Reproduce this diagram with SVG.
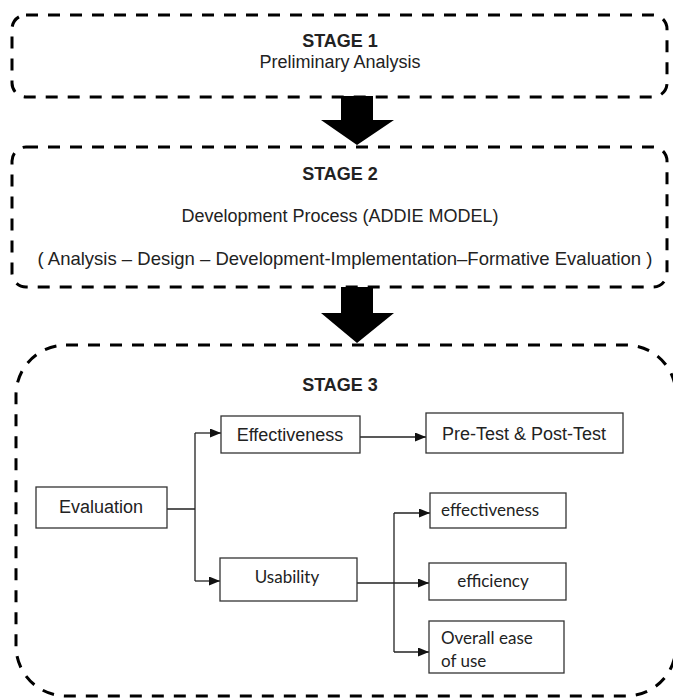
<svg xmlns="http://www.w3.org/2000/svg" width="673" height="698" viewBox="0 0 673 698">
<style>
.stage{fill:none;stroke:#000;stroke-width:3;stroke-dasharray:12 10}
.box{fill:#fff;stroke:#333;stroke-width:1.3}
.con{fill:none;stroke:#222;stroke-width:1.3}
.t{font-family:"Liberation Sans",Arial,sans-serif;fill:#222;font-size:18px}
.m{text-anchor:middle}
.b{font-weight:bold}
.c{font-family:Lato,"Open Sans",sans-serif;fill:#222;font-size:17px}
.blk{fill:#000}
</style>
<defs>
<marker id="ah" markerWidth="11" markerHeight="9" refX="11" refY="4.5" orient="auto" markerUnits="userSpaceOnUse"><path d="M0,0 L11,4.5 L0,9 Z" fill="#111"/></marker>
</defs>
<g id="stage1">
<rect class="stage" x="12" y="15" width="655" height="82" rx="14"/>
<text class="t m b" x="340" y="47">STAGE 1</text>
<text class="t m" x="340" y="68">Preliminary Analysis</text>
</g>
<g id="stage2">
<rect class="stage" x="12" y="147" width="655" height="140" rx="14"/>
<text class="t m b" x="340" y="180">STAGE 2</text>
<text class="t m" x="340" y="222">Development Process (ADDIE MODEL)</text>
<text class="t m" x="345" y="265" style="font-size:18.5px">( Analysis – Design – Development-Implementation–Formative Evaluation )</text>
</g>
<g id="stage3">
<rect class="stage" x="16" y="345" width="660" height="351" rx="50"/>
<text class="t m b" x="340" y="391">STAGE 3</text>
</g>
<g id="arrows">
<polygon class="blk" points="341,96 373,96 373,120 394,120 357,145 321,120 341,120"/>
<polygon class="blk" points="341,287 373,287 373,313 394,313 357,343 321,313 341,313"/>
</g>
<g id="connectors">
<path class="con" d="M167,509 H195 M195,433 V581"/>
<path class="con" d="M195,433 H221" marker-end="url(#ah)"/>
<path class="con" d="M195,581 H220" marker-end="url(#ah)"/>
<path class="con" d="M360,437 H426" marker-end="url(#ah)"/>
<path class="con" d="M357,583 H429" marker-end="url(#ah)"/>
<path class="con" d="M394,513 V652"/>
<path class="con" d="M394,513 H430" marker-end="url(#ah)"/>
<path class="con" d="M394,652 H429" marker-end="url(#ah)"/>
</g>
<g id="evaluation">
<rect class="box" x="36" y="487" width="131" height="41"/>
<text class="t m" x="101" y="513">Evaluation</text>
</g>
<g id="effectiveness">
<rect class="box" x="221" y="416" width="139" height="37"/>
<text class="t m" x="290" y="441">Effectiveness</text>
</g>
<g id="prepost">
<rect class="box" x="426" y="413" width="197" height="40"/>
<text class="t m" x="524" y="440">Pre-Test &amp; Post-Test</text>
</g>
<g id="u-effectiveness">
<rect class="box" x="430" y="493" width="136" height="35"/>
<text class="c" x="441" y="516">effectiveness</text>
</g>
<g id="usability">
<rect class="box" x="220" y="558" width="137" height="43"/>
<text class="c m" x="287" y="583">Usability</text>
</g>
<g id="efficiency">
<rect class="box" x="429" y="563" width="137" height="37"/>
<text class="c m" x="493" y="587">efficiency</text>
</g>
<g id="overall">
<rect class="box" x="429" y="621" width="135" height="52"/>
<text class="c" x="441" y="644">Overall ease</text>
<text class="c" x="441" y="667">of use</text>
</g>
</svg>
